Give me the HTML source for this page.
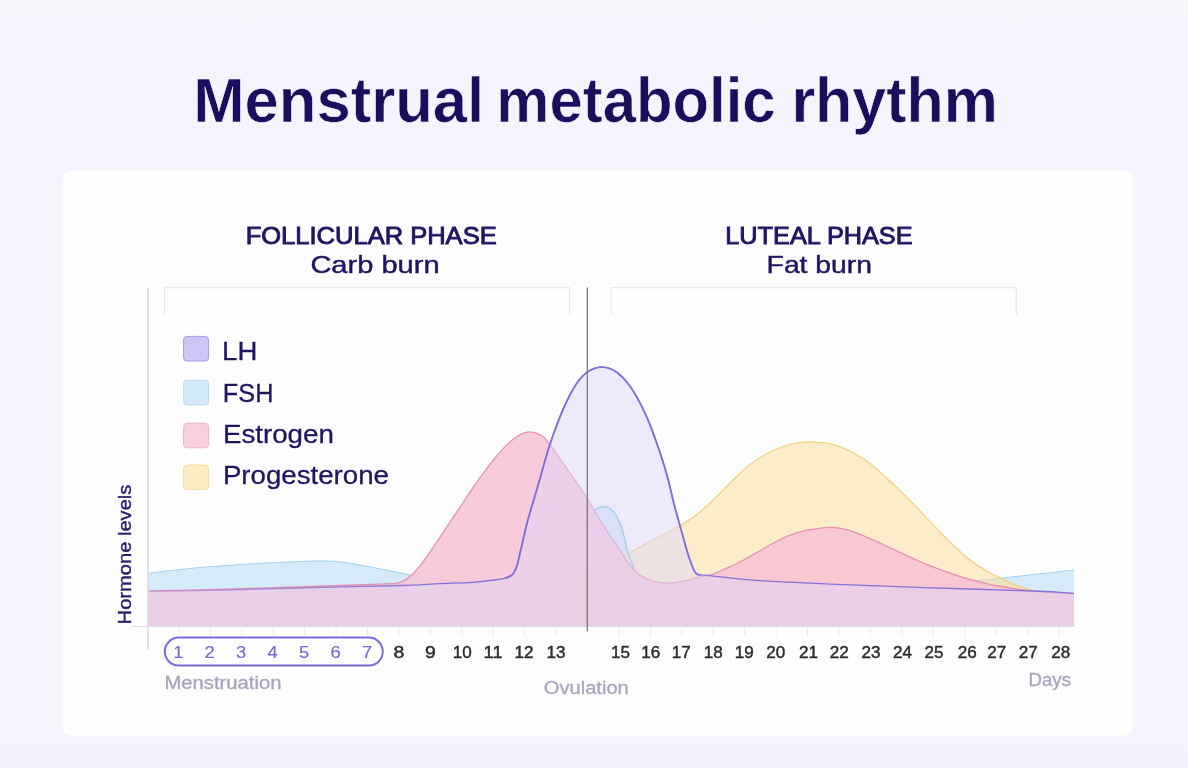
<!DOCTYPE html>
<html lang="en">
<head>
<meta charset="utf-8">
<title>Menstrual metabolic rhythm</title>
<style>
html,body{margin:0;padding:0;background:#f6f3fc;}
body{width:1188px;height:768px;overflow:hidden;font-family:"Liberation Sans",sans-serif;}
svg{display:block;filter:blur(0.35px);}
</style>
</head>
<body>
<svg width="1188" height="768" viewBox="0 0 1188 768">
<defs><linearGradient id="bgg" x1="0" y1="0" x2="0" y2="1"><stop offset="0" stop-color="#f9f7fd"/><stop offset="0.05" stop-color="#f6f3fc"/><stop offset="0.97" stop-color="#f6f3fc"/><stop offset="1" stop-color="#f3f0fa"/></linearGradient></defs>
<rect x="-5" y="-5" width="1198" height="778" fill="#f6f3fc"/>
<rect x="-5" y="0" width="1198" height="768" fill="url(#bgg)"/>
<rect x="62.5" y="170.5" width="1070" height="565" rx="8" fill="#fefefe"/>
<g font-family="'Liberation Sans', sans-serif" font-weight="700" font-size="63" fill="#190f5c" stroke="#f6f3fc" stroke-width="0.6" paint-order="fill stroke">
<text y="121.5"><tspan x="193.2" textLength="291" lengthAdjust="spacingAndGlyphs">Menstrual</tspan> <tspan x="496.3" textLength="279.3" lengthAdjust="spacingAndGlyphs">metabolic</tspan> <tspan x="791.4" textLength="206.5" lengthAdjust="spacingAndGlyphs">rhythm</tspan></text>
</g>
<g font-family="'Liberation Sans', sans-serif" fill="#1f1662">
<text x="245.7" y="243.6" font-size="23.6" textLength="251" lengthAdjust="spacingAndGlyphs" stroke="#1f1662" stroke-width="0.9">FOLLICULAR PHASE</text>
<text x="310.4" y="273" font-size="24.8" textLength="129.2" lengthAdjust="spacingAndGlyphs" stroke="#1f1662" stroke-width="0.45">Carb burn</text>
<text x="725.3" y="243.6" font-size="23.6" textLength="187.3" lengthAdjust="spacingAndGlyphs" stroke="#1f1662" stroke-width="0.9">LUTEAL PHASE</text>
<text x="766.6" y="273" font-size="24.8" textLength="105.4" lengthAdjust="spacingAndGlyphs" stroke="#1f1662" stroke-width="0.45">Fat burn</text>
</g>
<path d="M164.5,314 V287.7 H569.5 V314 M611.2,314 V287.7 H1016.2 V315" fill="none" stroke="#e5e5ea" stroke-width="1.1"/>
<path d="M148.5,573.2 C157.1,572.2 181.3,569.1 200.0,567.5 C218.7,565.9 243.9,564.3 260.6,563.3 C277.3,562.3 289.9,562.0 300.0,561.6 C310.1,561.2 314.1,560.9 321.0,560.9 C327.9,560.9 334.6,561.2 341.4,561.9 C348.2,562.6 354.9,564.1 361.6,565.3 C368.3,566.5 375.1,568.0 381.8,569.3 C388.5,570.6 395.3,572.0 402.0,573.3 C408.7,574.6 415.7,576.2 422.0,577.2 C428.3,578.2 432.0,578.4 440.0,579.6 C448.0,580.8 460.0,582.7 470.0,584.5 C480.0,586.3 488.3,588.5 500.0,590.5 C511.7,592.5 530.3,595.4 540.0,596.5 C549.7,597.6 553.4,599.8 558.0,597.0 C562.6,594.2 564.5,587.3 567.5,580.0 C570.5,572.7 573.0,561.7 575.8,553.0 C578.5,544.3 581.2,534.8 584.0,528.0 C586.8,521.2 589.3,515.9 592.5,512.3 C595.7,508.7 599.6,506.7 603.0,506.5 C606.4,506.3 609.9,507.4 613.0,511.0 C616.1,514.6 619.2,521.0 621.7,528.0 C624.2,535.0 625.6,545.4 628.0,553.0 C630.4,560.6 633.2,567.2 636.0,573.8 C638.8,580.4 641.9,588.2 644.6,592.5 C647.3,596.8 646.1,597.9 652.0,599.5 C657.9,601.1 663.7,602.1 680.0,602.0 C696.3,601.9 714.7,600.9 750.0,599.0 C785.3,597.1 853.7,593.6 892.0,590.5 C930.3,587.4 949.7,583.9 980.0,580.5 C1010.3,577.1 1058.3,571.8 1074.0,570.0 L1074.0,626.0 L148.5,626.0 Z" fill="rgba(176,216,246,0.52)"/>
<path d="M148.5,573.2 C157.1,572.2 181.3,569.1 200.0,567.5 C218.7,565.9 243.9,564.3 260.6,563.3 C277.3,562.3 289.9,562.0 300.0,561.6 C310.1,561.2 314.1,560.9 321.0,560.9 C327.9,560.9 334.6,561.2 341.4,561.9 C348.2,562.6 354.9,564.1 361.6,565.3 C368.3,566.5 375.1,568.0 381.8,569.3 C388.5,570.6 395.3,572.0 402.0,573.3 C408.7,574.6 415.7,576.2 422.0,577.2 C428.3,578.2 432.0,578.4 440.0,579.6 C448.0,580.8 460.0,582.7 470.0,584.5 C480.0,586.3 488.3,588.5 500.0,590.5 C511.7,592.5 530.3,595.4 540.0,596.5 C549.7,597.6 553.4,599.8 558.0,597.0 C562.6,594.2 564.5,587.3 567.5,580.0 C570.5,572.7 573.0,561.7 575.8,553.0 C578.5,544.3 581.2,534.8 584.0,528.0 C586.8,521.2 589.3,515.9 592.5,512.3 C595.7,508.7 599.6,506.7 603.0,506.5 C606.4,506.3 609.9,507.4 613.0,511.0 C616.1,514.6 619.2,521.0 621.7,528.0 C624.2,535.0 625.6,545.4 628.0,553.0 C630.4,560.6 633.2,567.2 636.0,573.8 C638.8,580.4 641.9,588.2 644.6,592.5 C647.3,596.8 646.1,597.9 652.0,599.5 C657.9,601.1 663.7,602.1 680.0,602.0 C696.3,601.9 714.7,600.9 750.0,599.0 C785.3,597.1 853.7,593.6 892.0,590.5 C930.3,587.4 949.7,583.9 980.0,580.5 C1010.3,577.1 1058.3,571.8 1074.0,570.0" fill="none" stroke="rgba(150,205,240,0.9)" stroke-width="1" stroke-linejoin="round"/>

<path d="M148.5,598.0 C173.8,598.0 251.4,598.3 300.0,598.0 C348.6,597.7 412.0,597.3 440.0,596.0 C468.0,594.7 457.2,591.5 468.0,590.0 C478.8,588.5 493.0,588.0 505.0,587.0 C517.0,586.0 529.2,585.2 540.0,584.0 C550.8,582.8 561.7,582.0 569.7,580.0 C577.7,578.0 578.3,576.1 588.0,571.7 C597.7,567.3 617.3,558.5 627.8,553.4 C638.3,548.3 644.2,544.7 651.2,541.0 C658.3,537.3 663.5,534.6 670.0,531.0 C676.5,527.4 684.7,523.1 690.0,519.6 C695.3,516.1 697.8,513.6 701.7,510.3 C705.6,507.0 709.5,503.4 713.4,499.7 C717.3,496.0 721.3,491.9 725.2,488.0 C729.1,484.1 733.0,480.0 736.9,476.3 C740.8,472.6 744.7,468.8 748.6,465.7 C752.5,462.6 756.4,459.9 760.3,457.5 C764.2,455.1 768.2,452.9 772.1,451.0 C776.0,449.1 779.9,447.6 783.8,446.3 C787.7,445.0 791.6,444.1 795.5,443.4 C799.4,442.7 803.3,442.2 807.2,442.0 C811.1,441.8 815.1,442.0 819.0,442.3 C822.9,442.6 826.8,443.0 830.7,443.9 C834.6,444.8 838.5,446.1 842.4,447.7 C846.3,449.3 850.2,451.2 854.1,453.3 C858.0,455.4 862.0,457.6 865.9,460.3 C869.8,463.0 873.7,466.3 877.6,469.7 C881.5,473.1 885.4,476.9 889.3,480.5 C893.2,484.1 897.1,487.7 901.0,491.5 C904.9,495.3 908.8,499.2 912.7,503.2 C916.6,507.2 920.6,511.6 924.5,515.7 C928.4,519.8 932.0,523.5 936.2,527.9 C940.5,532.3 943.8,536.1 950.0,541.9 C956.2,547.7 964.2,556.2 973.4,562.6 C982.6,569.0 995.0,575.6 1005.0,580.3 C1015.0,585.0 1022.0,588.3 1033.5,590.9 C1045.0,593.5 1067.2,595.1 1074.0,596.0 L1074.0,626.0 L148.5,626.0 Z" fill="rgba(252,224,165,0.6)"/>
<path d="M148.5,598.0 C173.8,598.0 251.4,598.3 300.0,598.0 C348.6,597.7 412.0,597.3 440.0,596.0 C468.0,594.7 457.2,591.5 468.0,590.0 C478.8,588.5 493.0,588.0 505.0,587.0 C517.0,586.0 529.2,585.2 540.0,584.0 C550.8,582.8 561.7,582.0 569.7,580.0 C577.7,578.0 578.3,576.1 588.0,571.7 C597.7,567.3 617.3,558.5 627.8,553.4 C638.3,548.3 644.2,544.7 651.2,541.0 C658.3,537.3 663.5,534.6 670.0,531.0 C676.5,527.4 684.7,523.1 690.0,519.6 C695.3,516.1 697.8,513.6 701.7,510.3 C705.6,507.0 709.5,503.4 713.4,499.7 C717.3,496.0 721.3,491.9 725.2,488.0 C729.1,484.1 733.0,480.0 736.9,476.3 C740.8,472.6 744.7,468.8 748.6,465.7 C752.5,462.6 756.4,459.9 760.3,457.5 C764.2,455.1 768.2,452.9 772.1,451.0 C776.0,449.1 779.9,447.6 783.8,446.3 C787.7,445.0 791.6,444.1 795.5,443.4 C799.4,442.7 803.3,442.2 807.2,442.0 C811.1,441.8 815.1,442.0 819.0,442.3 C822.9,442.6 826.8,443.0 830.7,443.9 C834.6,444.8 838.5,446.1 842.4,447.7 C846.3,449.3 850.2,451.2 854.1,453.3 C858.0,455.4 862.0,457.6 865.9,460.3 C869.8,463.0 873.7,466.3 877.6,469.7 C881.5,473.1 885.4,476.9 889.3,480.5 C893.2,484.1 897.1,487.7 901.0,491.5 C904.9,495.3 908.8,499.2 912.7,503.2 C916.6,507.2 920.6,511.6 924.5,515.7 C928.4,519.8 932.0,523.5 936.2,527.9 C940.5,532.3 943.8,536.1 950.0,541.9 C956.2,547.7 964.2,556.2 973.4,562.6 C982.6,569.0 995.0,575.6 1005.0,580.3 C1015.0,585.0 1022.0,588.3 1033.5,590.9 C1045.0,593.5 1067.2,595.1 1074.0,596.0" fill="none" stroke="#f2d288" stroke-width="1.3" stroke-linejoin="round"/>

<path d="M148.5,590.8 C157.1,590.7 177.9,590.5 200.0,590.0 C222.1,589.5 257.2,588.2 280.8,587.5 C304.4,586.8 324.0,586.1 341.4,585.5 C358.8,584.9 376.2,584.1 385.0,583.8 C393.8,583.5 391.2,583.9 394.0,583.6 C396.8,583.3 398.9,583.1 401.7,581.8 C404.5,580.5 407.9,578.6 411.0,575.8 C414.1,573.0 417.4,569.1 420.5,565.2 C423.6,561.3 426.7,556.9 429.8,552.4 C432.9,547.9 436.1,543.0 439.2,538.3 C442.3,533.6 445.1,529.5 448.6,524.2 C452.1,518.9 456.4,512.5 460.3,506.7 C464.2,500.8 468.1,494.8 472.0,489.1 C475.9,483.4 479.8,478.0 483.7,472.7 C487.6,467.4 491.5,462.2 495.4,457.5 C499.3,452.8 503.2,448.3 507.1,444.6 C511.0,440.9 515.1,437.5 518.8,435.4 C522.5,433.3 525.9,432.0 529.4,431.9 C532.9,431.8 536.8,432.9 540.0,434.7 C543.2,436.5 543.8,436.4 548.5,442.5 C553.2,448.6 561.9,461.7 568.4,471.0 C574.9,480.3 581.5,489.5 587.3,498.5 C593.1,507.5 597.5,516.4 603.0,525.0 C608.5,533.6 615.6,543.7 620.0,550.3 C624.4,556.9 626.0,560.2 629.4,564.4 C632.8,568.6 636.1,572.4 640.3,575.3 C644.5,578.2 649.4,580.3 654.4,581.6 C659.4,582.9 664.8,583.2 670.0,583.1 C675.2,583.0 681.2,581.7 685.6,580.8 C690.0,579.9 692.4,578.7 696.6,577.7 C700.9,576.7 706.3,576.2 711.1,574.7 C715.9,573.2 720.9,570.8 725.2,568.9 C729.5,567.0 733.0,565.5 736.9,563.5 C740.8,561.5 744.7,559.4 748.6,557.2 C752.5,555.1 756.4,552.8 760.3,550.6 C764.2,548.4 768.2,545.9 772.1,543.8 C776.0,541.7 779.9,539.7 783.8,537.9 C787.7,536.1 791.6,534.5 795.5,533.2 C799.4,531.9 803.3,531.0 807.2,530.2 C811.1,529.4 815.1,528.8 819.0,528.3 C822.9,527.8 826.8,527.3 830.7,527.4 C834.6,527.5 838.5,527.8 842.4,528.6 C846.3,529.4 850.2,530.7 854.1,532.1 C858.0,533.5 862.0,535.2 865.9,536.8 C869.8,538.4 873.7,540.1 877.6,541.9 C881.5,543.6 885.4,545.5 889.3,547.3 C893.2,549.1 897.1,551.1 901.0,552.9 C904.9,554.7 908.8,556.5 912.7,558.3 C916.6,560.1 920.6,561.9 924.5,563.5 C928.4,565.1 932.0,566.6 936.2,568.2 C940.5,569.8 945.6,571.6 950.0,573.1 C954.4,574.6 954.8,575.4 962.8,577.5 C970.8,579.6 986.2,583.8 998.0,586.0 C1009.8,588.2 1020.8,589.7 1033.5,591.0 C1046.2,592.3 1067.2,593.2 1074.0,593.7 L1074.0,626.0 L148.5,626.0 Z" fill="rgba(247,194,211,0.85)"/>
<path d="M148.5,590.8 C157.1,590.7 177.9,590.5 200.0,590.0 C222.1,589.5 257.2,588.2 280.8,587.5 C304.4,586.8 324.0,586.1 341.4,585.5 C358.8,584.9 376.2,584.1 385.0,583.8 C393.8,583.5 391.2,583.9 394.0,583.6 C396.8,583.3 398.9,583.1 401.7,581.8 C404.5,580.5 407.9,578.6 411.0,575.8 C414.1,573.0 417.4,569.1 420.5,565.2 C423.6,561.3 426.7,556.9 429.8,552.4 C432.9,547.9 436.1,543.0 439.2,538.3 C442.3,533.6 445.1,529.5 448.6,524.2 C452.1,518.9 456.4,512.5 460.3,506.7 C464.2,500.8 468.1,494.8 472.0,489.1 C475.9,483.4 479.8,478.0 483.7,472.7 C487.6,467.4 491.5,462.2 495.4,457.5 C499.3,452.8 503.2,448.3 507.1,444.6 C511.0,440.9 515.1,437.5 518.8,435.4 C522.5,433.3 525.9,432.0 529.4,431.9 C532.9,431.8 536.8,432.9 540.0,434.7 C543.2,436.5 543.8,436.4 548.5,442.5 C553.2,448.6 561.9,461.7 568.4,471.0 C574.9,480.3 581.5,489.5 587.3,498.5 C593.1,507.5 597.5,516.4 603.0,525.0 C608.5,533.6 615.6,543.7 620.0,550.3 C624.4,556.9 626.0,560.2 629.4,564.4 C632.8,568.6 636.1,572.4 640.3,575.3 C644.5,578.2 649.4,580.3 654.4,581.6 C659.4,582.9 664.8,583.2 670.0,583.1 C675.2,583.0 681.2,581.7 685.6,580.8 C690.0,579.9 692.4,578.7 696.6,577.7 C700.9,576.7 706.3,576.2 711.1,574.7 C715.9,573.2 720.9,570.8 725.2,568.9 C729.5,567.0 733.0,565.5 736.9,563.5 C740.8,561.5 744.7,559.4 748.6,557.2 C752.5,555.1 756.4,552.8 760.3,550.6 C764.2,548.4 768.2,545.9 772.1,543.8 C776.0,541.7 779.9,539.7 783.8,537.9 C787.7,536.1 791.6,534.5 795.5,533.2 C799.4,531.9 803.3,531.0 807.2,530.2 C811.1,529.4 815.1,528.8 819.0,528.3 C822.9,527.8 826.8,527.3 830.7,527.4 C834.6,527.5 838.5,527.8 842.4,528.6 C846.3,529.4 850.2,530.7 854.1,532.1 C858.0,533.5 862.0,535.2 865.9,536.8 C869.8,538.4 873.7,540.1 877.6,541.9 C881.5,543.6 885.4,545.5 889.3,547.3 C893.2,549.1 897.1,551.1 901.0,552.9 C904.9,554.7 908.8,556.5 912.7,558.3 C916.6,560.1 920.6,561.9 924.5,563.5 C928.4,565.1 932.0,566.6 936.2,568.2 C940.5,569.8 945.6,571.6 950.0,573.1 C954.4,574.6 954.8,575.4 962.8,577.5 C970.8,579.6 986.2,583.8 998.0,586.0 C1009.8,588.2 1020.8,589.7 1033.5,591.0 C1046.2,592.3 1067.2,593.2 1074.0,593.7" fill="none" stroke="rgba(228,140,175,0.95)" stroke-width="1.3" stroke-linejoin="round"/>

<path d="M148.5,591.3 C157.1,591.2 177.9,591.1 200.0,590.6 C222.1,590.1 257.2,589.1 280.8,588.5 C304.4,587.9 321.2,587.4 341.4,586.9 C361.6,586.4 385.6,586.0 402.0,585.5 C418.4,585.0 428.4,584.1 440.0,583.6 C451.6,583.1 462.2,582.9 471.3,582.3 C480.4,581.7 489.0,580.7 494.7,580.0 C500.4,579.3 502.9,578.8 505.6,578.1 C508.3,577.4 509.7,576.6 511.1,575.6 C512.5,574.6 513.2,574.1 514.2,572.2 C515.2,570.3 516.1,568.5 517.3,564.4 C518.5,560.3 519.6,554.7 521.3,547.5 C523.0,540.3 525.5,529.0 527.6,521.0 C529.7,513.0 531.7,507.2 533.9,499.5 C536.1,491.8 538.5,483.6 541.0,475.0 C543.5,466.4 545.9,456.8 548.8,447.7 C551.7,438.6 555.3,428.6 558.6,420.3 C561.9,412.0 565.1,404.4 568.4,397.9 C571.7,391.4 575.1,385.6 578.2,381.3 C581.4,377.0 584.4,374.1 587.3,371.9 C590.2,369.7 593.2,368.8 595.7,368.0 C598.2,367.2 600.3,367.1 602.6,367.2 C604.9,367.3 607.0,367.5 609.4,368.4 C611.8,369.3 614.3,370.2 617.2,372.5 C620.1,374.8 623.7,378.1 627.0,382.2 C630.3,386.3 633.5,391.2 636.8,396.9 C640.0,402.6 643.2,408.9 646.5,416.4 C649.8,423.9 653.0,432.3 656.3,441.8 C659.6,451.3 663.4,462.7 666.5,473.5 C669.6,484.3 672.0,496.4 674.7,506.6 C677.4,516.8 680.2,526.4 682.5,534.7 C684.8,543.0 686.9,550.9 688.8,556.6 C690.6,562.3 692.1,566.1 693.4,569.0 C694.7,571.9 695.5,572.8 696.6,573.8 C697.7,574.7 697.1,574.4 700.0,574.8 C702.9,575.2 703.7,575.1 713.8,576.1 C723.8,577.1 740.8,579.3 760.3,580.6 C779.8,581.9 803.3,582.9 830.7,584.1 C858.1,585.3 890.7,586.5 924.5,587.6 C958.3,588.8 1008.6,590.0 1033.5,591.0 C1058.4,592.0 1067.2,593.0 1074.0,593.4 L1074.0,626.0 L148.5,626.0 Z" fill="rgba(222,214,250,0.5)"/>
<clipPath id="bumpclip"><path d="M587.3,498.5 L603,525 L620,550.3 L629.4,564.4 L640,575 L660,560 L660,490 Z"/></clipPath>
<g clip-path="url(#bumpclip)"><path d="M584.0,528.0 C585.4,525.4 589.3,515.9 592.5,512.3 C595.7,508.7 599.6,506.7 603.0,506.5 C606.4,506.3 609.9,507.4 613.0,511.0 C616.1,514.6 619.2,521.0 621.7,528.0 C624.2,535.0 625.6,545.4 628.0,553.0 C630.4,560.6 633.2,567.2 636.0,573.8 C638.8,580.4 641.9,588.2 644.6,592.5 C647.3,596.8 650.8,598.3 652.0,599.5" fill="none" stroke="#a9d0f0" stroke-width="1.4"/></g>
<defs><linearGradient id="lhg" gradientUnits="userSpaceOnUse" x1="148" y1="0" x2="1074" y2="0"><stop offset="0" stop-color="#8574d9" stop-opacity="0.3"/><stop offset="0.2" stop-color="#8574d9" stop-opacity="0.85"/><stop offset="0.3" stop-color="#8574d9" stop-opacity="1"/><stop offset="1" stop-color="#8574d9" stop-opacity="1"/></linearGradient></defs>
<path d="M148.5,591.3 C157.1,591.2 177.9,591.1 200.0,590.6 C222.1,590.1 257.2,589.1 280.8,588.5 C304.4,587.9 321.2,587.4 341.4,586.9 C361.6,586.4 385.6,586.0 402.0,585.5 C418.4,585.0 428.4,584.1 440.0,583.6 C451.6,583.1 462.2,582.9 471.3,582.3 C480.4,581.7 489.0,580.7 494.7,580.0 C500.4,579.3 502.9,578.8 505.6,578.1 C508.3,577.4 509.7,576.6 511.1,575.6 C512.5,574.6 513.2,574.1 514.2,572.2 C515.2,570.3 516.1,568.5 517.3,564.4 C518.5,560.3 519.6,554.7 521.3,547.5 C523.0,540.3 525.5,529.0 527.6,521.0 C529.7,513.0 531.7,507.2 533.9,499.5 C536.1,491.8 538.5,483.6 541.0,475.0 C543.5,466.4 545.9,456.8 548.8,447.7 C551.7,438.6 555.3,428.6 558.6,420.3 C561.9,412.0 565.1,404.4 568.4,397.9 C571.7,391.4 575.1,385.6 578.2,381.3 C581.4,377.0 584.4,374.1 587.3,371.9 C590.2,369.7 593.2,368.8 595.7,368.0 C598.2,367.2 600.3,367.1 602.6,367.2 C604.9,367.3 607.0,367.5 609.4,368.4 C611.8,369.3 614.3,370.2 617.2,372.5 C620.1,374.8 623.7,378.1 627.0,382.2 C630.3,386.3 633.5,391.2 636.8,396.9 C640.0,402.6 643.2,408.9 646.5,416.4 C649.8,423.9 653.0,432.3 656.3,441.8 C659.6,451.3 663.4,462.7 666.5,473.5 C669.6,484.3 672.0,496.4 674.7,506.6 C677.4,516.8 680.2,526.4 682.5,534.7 C684.8,543.0 686.9,550.9 688.8,556.6 C690.6,562.3 692.1,566.1 693.4,569.0 C694.7,571.9 695.5,572.8 696.6,573.8 C697.7,574.7 697.1,574.4 700.0,574.8 C702.9,575.2 703.7,575.1 713.8,576.1 C723.8,577.1 740.8,579.3 760.3,580.6 C779.8,581.9 803.3,582.9 830.7,584.1 C858.1,585.3 890.7,586.5 924.5,587.6 C958.3,588.8 1008.6,590.0 1033.5,591.0 C1058.4,592.0 1067.2,593.0 1074.0,593.4" fill="none" stroke="url(#lhg)" stroke-width="1.3" stroke-linejoin="round"/>
<path d="M505.6,578.1 C506.5,577.7 509.7,576.6 511.1,575.6 C512.5,574.6 513.2,574.1 514.2,572.2 C515.2,570.3 516.1,568.5 517.3,564.4 C518.5,560.3 519.6,554.7 521.3,547.5 C523.0,540.3 525.5,529.0 527.6,521.0 C529.7,513.0 531.7,507.2 533.9,499.5 C536.1,491.8 538.5,483.6 541.0,475.0 C543.5,466.4 545.9,456.8 548.8,447.7 C551.7,438.6 555.3,428.6 558.6,420.3 C561.9,412.0 565.1,404.4 568.4,397.9 C571.7,391.4 575.1,385.6 578.2,381.3 C581.4,377.0 584.4,374.1 587.3,371.9 C590.2,369.7 593.2,368.8 595.7,368.0 C598.2,367.2 600.3,367.1 602.6,367.2 C604.9,367.3 607.0,367.5 609.4,368.4 C611.8,369.3 614.3,370.2 617.2,372.5 C620.1,374.8 623.7,378.1 627.0,382.2 C630.3,386.3 633.5,391.2 636.8,396.9 C640.0,402.6 643.2,408.9 646.5,416.4 C649.8,423.9 653.0,432.3 656.3,441.8 C659.6,451.3 663.4,462.7 666.5,473.5 C669.6,484.3 672.0,496.4 674.7,506.6 C677.4,516.8 680.2,526.4 682.5,534.7 C684.8,543.0 686.9,550.9 688.8,556.6 C690.6,562.3 692.1,566.1 693.4,569.0 C694.7,571.9 695.5,572.8 696.6,573.8 C697.7,574.7 699.4,574.6 700.0,574.8" fill="none" stroke="#8270d8" stroke-width="1.8" stroke-linejoin="round" stroke-linecap="round"/>
<path d="M148,287.7 V649.5" stroke="#d6d6dc" stroke-width="1.5" fill="none"/>
<path d="M132,626.5 H1075" stroke="#dcdce2" stroke-width="1.2" fill="none"/>
<path d="M587.3,287.5 V631.5" stroke="#66666c" stroke-width="1.1" fill="none"/>
<path d="M179.0,627 V636.5 M210.4,627 V636.5 M241.9,627 V636.5 M273.3,627 V636.5 M304.7,627 V636.5 M336.1,627 V636.5 M367.6,627 V636.5 M399.0,627 V636.5 M430.4,627 V636.5 M461.9,627 V636.5 M493.3,627 V636.5 M524.7,627 V636.5 M556.2,627 V636.5 M619.0,627 V636.5 M650.5,627 V636.5 M681.9,627 V636.5 M713.3,627 V636.5 M744.7,627 V636.5 M776.2,627 V636.5 M807.6,627 V636.5 M839.0,627 V636.5 M870.5,627 V636.5 M901.9,627 V636.5 M933.3,627 V636.5 M964.8,627 V636.5 M996.2,627 V636.5 M1027.6,627 V636.5 M1059.0,627 V636.5 " stroke="#ececf0" stroke-width="1" fill="none"/>
<g font-family="'Liberation Sans', sans-serif" font-size="25" fill="#1f1662" stroke="#1f1662" stroke-width="0.28">
<rect x="183.6" y="336.4" width="25" height="24.6" rx="3.5" fill="#cfc5f6" stroke="#a79ae2" stroke-width="1"/>
<text x="222.1" y="360.3" textLength="35.2" lengthAdjust="spacingAndGlyphs">LH</text>
<rect x="183.6" y="380.3" width="25" height="24.6" rx="3.5" fill="#d3e9fa" stroke="#b5d9f1" stroke-width="1"/>
<text x="222.8" y="402.3" textLength="50.6" lengthAdjust="spacingAndGlyphs">FSH</text>
<rect x="183.6" y="423.2" width="25" height="24.6" rx="3.5" fill="#f9d0dd" stroke="#f0b4c8" stroke-width="1"/>
<text x="222.9" y="443.3" textLength="111" lengthAdjust="spacingAndGlyphs">Estrogen</text>
<rect x="183.6" y="465.0" width="25" height="24.6" rx="3.5" fill="#fdebc4" stroke="#f6dca0" stroke-width="1"/>
<text x="222.9" y="483.6" textLength="166.1" lengthAdjust="spacingAndGlyphs">Progesterone</text>
</g>
<text transform="translate(130.8,624.4) rotate(-90)" font-family="'Liberation Sans', sans-serif" font-size="18" fill="#2a1f6e" stroke="#2a1f6e" stroke-width="0.4" textLength="139.8" lengthAdjust="spacingAndGlyphs">Hormone levels</text>
<rect x="164.8" y="637.6" width="218" height="28" rx="14" fill="none" stroke="#7c6ade" stroke-width="2"/>
<g font-family="'Liberation Sans', sans-serif" font-size="16.5" text-anchor="middle">
<text x="178.3" y="658.4" fill="#7567cf" stroke="#7567cf" stroke-width="0.15" textLength="10.2" lengthAdjust="spacingAndGlyphs">1</text>
<text x="209.6" y="658.4" fill="#7567cf" stroke="#7567cf" stroke-width="0.15" textLength="10.2" lengthAdjust="spacingAndGlyphs">2</text>
<text x="241.0" y="658.4" fill="#7567cf" stroke="#7567cf" stroke-width="0.15" textLength="10.2" lengthAdjust="spacingAndGlyphs">3</text>
<text x="272.6" y="658.4" fill="#7567cf" stroke="#7567cf" stroke-width="0.15" textLength="10.2" lengthAdjust="spacingAndGlyphs">4</text>
<text x="304.0" y="658.4" fill="#7567cf" stroke="#7567cf" stroke-width="0.15" textLength="10.2" lengthAdjust="spacingAndGlyphs">5</text>
<text x="335.5" y="658.4" fill="#7567cf" stroke="#7567cf" stroke-width="0.15" textLength="10.2" lengthAdjust="spacingAndGlyphs">6</text>
<text x="367.0" y="658.4" fill="#7567cf" stroke="#7567cf" stroke-width="0.15" textLength="10.2" lengthAdjust="spacingAndGlyphs">7</text>
<text x="398.9" y="658.4" fill="#2b2b30" stroke="#2b2b30" stroke-width="0.45" textLength="10.8" lengthAdjust="spacingAndGlyphs">8</text>
<text x="430.4" y="658.4" fill="#2b2b30" stroke="#2b2b30" stroke-width="0.45" textLength="10.8" lengthAdjust="spacingAndGlyphs">9</text>
<text x="462.2" y="658.4" fill="#2b2b30" stroke="#2b2b30" stroke-width="0.45" textLength="19" lengthAdjust="spacingAndGlyphs">10</text>
<text x="493.1" y="658.4" fill="#2b2b30" stroke="#2b2b30" stroke-width="0.45" textLength="19" lengthAdjust="spacingAndGlyphs">11</text>
<text x="524.1" y="658.4" fill="#2b2b30" stroke="#2b2b30" stroke-width="0.45" textLength="19" lengthAdjust="spacingAndGlyphs">12</text>
<text x="555.9" y="658.4" fill="#2b2b30" stroke="#2b2b30" stroke-width="0.45" textLength="19" lengthAdjust="spacingAndGlyphs">13</text>
<text x="620.5" y="658.4" fill="#2b2b30" stroke="#2b2b30" stroke-width="0.45" textLength="19" lengthAdjust="spacingAndGlyphs">15</text>
<text x="650.7" y="658.4" fill="#2b2b30" stroke="#2b2b30" stroke-width="0.45" textLength="19" lengthAdjust="spacingAndGlyphs">16</text>
<text x="681.2" y="658.4" fill="#2b2b30" stroke="#2b2b30" stroke-width="0.45" textLength="19" lengthAdjust="spacingAndGlyphs">17</text>
<text x="713.2" y="658.4" fill="#2b2b30" stroke="#2b2b30" stroke-width="0.45" textLength="19" lengthAdjust="spacingAndGlyphs">18</text>
<text x="744.2" y="658.4" fill="#2b2b30" stroke="#2b2b30" stroke-width="0.45" textLength="19" lengthAdjust="spacingAndGlyphs">19</text>
<text x="775.8" y="658.4" fill="#2b2b30" stroke="#2b2b30" stroke-width="0.45" textLength="19" lengthAdjust="spacingAndGlyphs">20</text>
<text x="808.6" y="658.4" fill="#2b2b30" stroke="#2b2b30" stroke-width="0.45" textLength="19" lengthAdjust="spacingAndGlyphs">21</text>
<text x="839.3" y="658.4" fill="#2b2b30" stroke="#2b2b30" stroke-width="0.45" textLength="19" lengthAdjust="spacingAndGlyphs">22</text>
<text x="871.0" y="658.4" fill="#2b2b30" stroke="#2b2b30" stroke-width="0.45" textLength="19" lengthAdjust="spacingAndGlyphs">23</text>
<text x="902.6" y="658.4" fill="#2b2b30" stroke="#2b2b30" stroke-width="0.45" textLength="19" lengthAdjust="spacingAndGlyphs">24</text>
<text x="934.0" y="658.4" fill="#2b2b30" stroke="#2b2b30" stroke-width="0.45" textLength="19" lengthAdjust="spacingAndGlyphs">25</text>
<text x="967.2" y="658.4" fill="#2b2b30" stroke="#2b2b30" stroke-width="0.45" textLength="19" lengthAdjust="spacingAndGlyphs">26</text>
<text x="996.8" y="658.4" fill="#2b2b30" stroke="#2b2b30" stroke-width="0.45" textLength="19" lengthAdjust="spacingAndGlyphs">27</text>
<text x="1028.3" y="658.4" fill="#2b2b30" stroke="#2b2b30" stroke-width="0.45" textLength="19" lengthAdjust="spacingAndGlyphs">27</text>
<text x="1060.7" y="658.4" fill="#2b2b30" stroke="#2b2b30" stroke-width="0.45" textLength="19" lengthAdjust="spacingAndGlyphs">28</text>
</g>
<g font-family="'Liberation Sans', sans-serif" font-size="17.5" fill="#a7a4be" stroke="#a7a4be" stroke-width="0.3">
<text x="164.5" y="689.3" textLength="117" lengthAdjust="spacingAndGlyphs">Menstruation</text>
<text x="543.8" y="694" textLength="85" lengthAdjust="spacingAndGlyphs">Ovulation</text>
<text x="1028.5" y="686" textLength="42.5" lengthAdjust="spacingAndGlyphs">Days</text>
</g>
</svg>
</body>
</html>
